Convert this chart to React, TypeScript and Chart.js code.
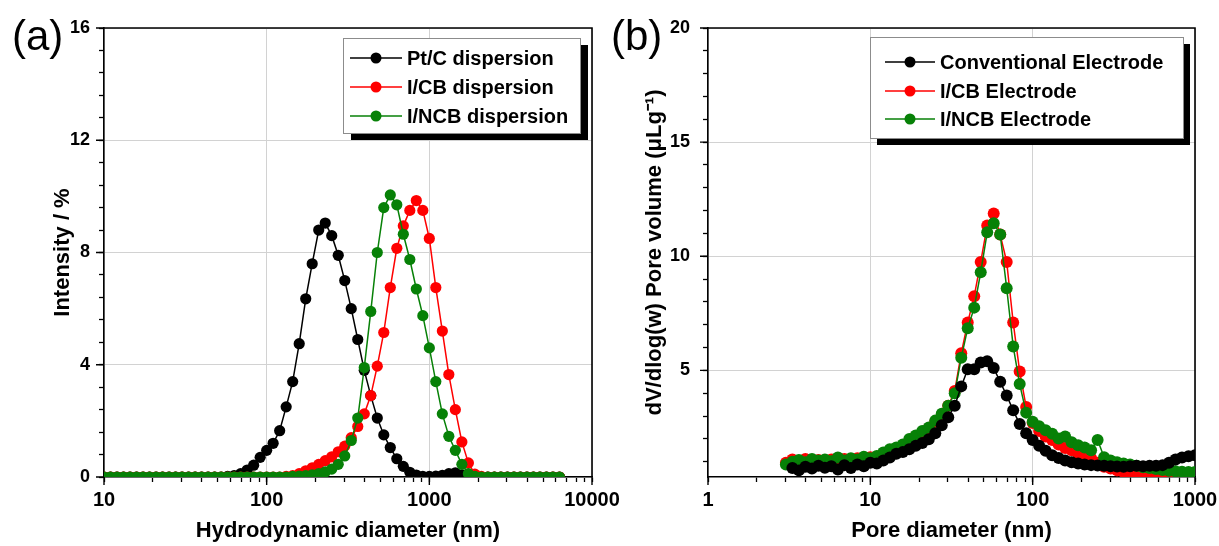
import React, { useEffect, useRef } from "react";
import { Chart, registerables } from "chart.js";

Chart.register(...registerables);

const FONT = "'Liberation Sans', Arial, Helvetica, sans-serif";

// ---------- Panel (a): DLS ----------
const dlsDiameterNm = [
  10.0, 10.96, 12.02, 13.18, 14.45, 15.85, 17.38, 19.05, 20.89, 22.91,
  25.12, 27.54, 30.2, 33.11, 36.31, 39.81, 43.65, 47.86, 52.48, 57.54,
  63.1, 69.18, 75.86, 83.18, 91.2, 100.0, 109.6, 120.2, 131.8, 144.5,
  158.5, 173.8, 190.5, 208.9, 229.1, 251.2, 275.4, 302.0, 331.1, 363.1,
  398.1, 436.5, 478.6, 524.8, 575.4, 631.0, 691.8, 758.6, 831.8, 912.0,
  1000, 1096, 1202, 1318, 1445, 1585, 1738, 1905, 2089, 2291,
  2512, 2754, 3020, 3311, 3631, 3981, 4365, 4786, 5248, 5754, 6310,
];
const ptcDispersion = [
  0, 0, 0, 0, 0, 0, 0, 0, 0, 0,
  0, 0, 0, 0, 0, 0, 0, 0, 0, 0.02,
  0.05, 0.12, 0.25, 0.42, 0.7, 0.95, 1.2, 1.65, 2.5, 3.4,
  4.75, 6.35, 7.6, 8.8, 9.05, 8.6, 7.9, 7.0, 6.0, 4.9,
  3.8, 2.9, 2.1, 1.5, 1.05, 0.65, 0.38, 0.17, 0.07, 0.02,
  0.02, 0.03, 0.06, 0.12, 0.15, 0.08, 0.02, 0, 0, 0,
  0, 0, 0, 0, 0, 0, 0, 0, 0, 0, 0,
];
const icbDispersion = [
  0, 0, 0, 0, 0, 0, 0, 0, 0, 0,
  0, 0, 0, 0, 0, 0, 0, 0, 0, 0,
  0, 0, 0, 0, 0, 0, 0, 0, 0.02, 0.05,
  0.12, 0.22, 0.33, 0.45, 0.58, 0.72, 0.9, 1.1, 1.4, 1.8,
  2.25, 2.9, 3.95, 5.15, 6.75, 8.15, 8.95, 9.5, 9.85, 9.5,
  8.5, 6.75, 5.2, 3.65, 2.4, 1.25, 0.5, 0.1, 0.02, 0,
  0, 0, 0, 0, 0, 0, 0, 0, 0, 0, 0,
];
const incbDispersion = [
  0, 0, 0, 0, 0, 0, 0, 0, 0, 0,
  0, 0, 0, 0, 0, 0, 0, 0, 0, 0,
  0, 0, 0, 0, 0, 0, 0, 0, 0, 0.02,
  0.03, 0.05, 0.08, 0.12, 0.18, 0.28, 0.45, 0.75, 1.3, 2.1,
  3.9, 5.9, 8.0, 9.6, 10.05, 9.7, 8.65, 7.75, 6.7, 5.75,
  4.6, 3.4, 2.25, 1.45, 0.95, 0.45, 0.12, 0.02, 0, 0,
  0, 0, 0, 0, 0, 0, 0, 0, 0, 0, 0,
];
const dlsXMajorTicks = [10, 100, 1000, 10000];
const dlsXMinorTicks = [20, 30, 40, 50, 60, 70, 80, 90, 200, 300, 400, 500, 600, 700, 800, 900, 2000, 3000, 4000, 5000, 6000, 7000, 8000, 9000];
const dlsYMajorTicks = [0, 4, 8, 12, 16];
const dlsYMinorTicks = [0.8, 1.6, 2.4, 3.2, 4.8, 5.6, 6.4, 7.2, 8.8, 9.6, 10.4, 11.2, 12.8, 13.6, 14.4, 15.2];

// ---------- Panel (b): pore size distribution ----------
const poreDiameterNm = [
  3.02, 3.31, 3.63, 3.98, 4.37, 4.79, 5.25, 5.75, 6.31, 6.92,
  7.59, 8.32, 9.12, 10.0, 10.96, 12.02, 13.18, 14.45, 15.85, 17.38,
  19.05, 20.89, 22.91, 25.12, 27.54, 30.2, 33.11, 36.31, 39.81, 43.65,
  47.86, 52.48, 57.54, 63.1, 69.18, 75.86, 83.18, 91.2, 100.0, 109.6,
  120.2, 131.8, 144.5, 158.5, 173.8, 190.5, 208.9, 229.1, 251.2, 275.4,
  302.0, 331.1, 363.1, 398.1, 436.5, 478.6, 524.8, 575.4, 631.0, 691.8,
  758.6, 831.8, 912.0, 1000,
];
const conventionalElectrode = [
  null, 0.72, 0.62, 0.78, 0.70, 0.82, 0.74, 0.80, 0.66, 0.85,
  0.72, 0.88, 0.80, 0.95, 0.92, 1.05, 1.18, 1.35, 1.42, 1.55,
  1.70, 1.82, 1.98, 2.25, 2.60, 2.95, 3.45, 4.30, 5.05, 5.05,
  5.35, 5.40, 5.10, 4.50, 3.90, 3.25, 2.65, 2.25, 1.95, 1.70,
  1.48, 1.28, 1.16, 1.05, 0.98, 0.92, 0.88, 0.85, 0.83, 0.82,
  0.80, 0.79, 0.78, 0.80, 0.82, 0.80, 0.82, 0.82, 0.85, 0.95,
  1.10, 1.18, 1.24, 1.28,
];
const icbElectrode = [
  0.95, 1.10, 1.02, 1.12, 1.05, 1.08, 0.98, 1.10, 1.02, 1.12,
  1.05, 1.15, 1.10, 1.20, 1.22, 1.35, 1.45, 1.55, 1.70, 1.90,
  2.10, 2.25, 2.45, 2.75, 3.05, 3.45, 4.10, 5.75, 7.10, 8.25,
  9.75, 11.35, 11.87, 10.95, 9.75, 7.10, 4.95, 3.40, 2.70, 2.35,
  2.10, 1.95, 1.75, 1.60, 1.50, 1.35, 1.20, 1.15, 0.95, 0.78,
  0.70, 0.62, 0.55, 0.50, 0.45, 0.42, 0.40, 0.40, 0.42, 0.44,
  0.46, 0.45, 0.47, 0.48,
];
const incbElectrode = [
  0.88, 1.00, 1.08, 0.98, 1.12, 1.05, 1.10, 1.02, 1.18, 1.05,
  1.15, 1.10, 1.22, 1.15, 1.25, 1.40, 1.55, 1.62, 1.75, 2.00,
  2.15, 2.35, 2.50, 2.80, 3.10, 3.45, 4.00, 5.55, 6.85, 7.75,
  9.30, 11.05, 11.45, 10.95, 8.60, 6.05, 4.40, 3.15, 2.75, 2.55,
  2.38, 2.22, 2.02, 2.10, 1.85, 1.72, 1.62, 1.50, 1.95, 1.20,
  1.05, 0.98, 0.92, 0.88, 0.82, 0.76, 0.72, 0.68, 0.64, 0.60,
  0.58, 0.56, 0.55, 0.55,
];
const poreXMajorTicks = [1, 10, 100, 1000];
const poreXMinorTicks = [2, 3, 4, 5, 6, 7, 8, 9, 20, 30, 40, 50, 60, 70, 80, 90, 200, 300, 400, 500, 600, 700, 800, 900];
const poreYMajorTicks = [5, 10, 15, 20];
const poreYMinorTicks = [1, 2, 3, 4, 6, 7, 8, 9, 11, 12, 13, 14, 16, 17, 18, 19];

const BLACK = "#000000";
const RED = "#ff0000";
const GREEN = "#078107";

function series(label: string, xs: number[], ys: (number | null)[], color: string, order: number, radius: number) {
  return {
    label,
    data: xs.map((x, i) => ({ x, y: ys[i] })),
    borderColor: color,
    backgroundColor: color,
    pointBackgroundColor: color,
    pointBorderColor: color,
    pointBorderWidth: 0,
    pointRadius: radius,
    pointHoverRadius: radius,
    borderWidth: 1.5,
    tension: 0,
    order,
    spanGaps: false,
  };
}

function axis(o: any) {
  const major: number[] = o.major;
  const minor: number[] = o.minor;
  return {
    type: o.type,
    min: o.min,
    max: o.max,
    afterBuildTicks: (s: any) => {
      s.ticks = [...major, ...minor].sort((p, q) => p - q).map((v) => ({ value: v }));
    },
    afterFit: (s: any) => {
      if (o.horizontal) s.height = o.size;
      else s.width = o.size;
    },
    ticks: {
      autoSkip: false,
      maxRotation: 0,
      minRotation: 0,
      includeBounds: false,
      padding: o.tickPad,
      color: "#000",
      font: { family: FONT, size: o.tickFont, weight: "bold" },
      callback: (v: any) => (major.includes(Number(v)) ? String(v) : ""),
    },
    grid: {
      display: true,
      drawOnChartArea: true,
      drawTicks: true,
      tickLength: 5,
      lineWidth: 1,
      color: (c: any) => (c.tick && major.includes(c.tick.value) ? "#d2d2d2" : "rgba(0,0,0,0)"),
      tickColor: "#000",
      tickWidth: 1.3,
    },
    border: { display: true, color: "#000", width: 1.6 },
    title: {
      display: true,
      text: o.title,
      color: "#000",
      font: { family: FONT, size: 22, weight: "bold" },
      padding: o.horizontal ? { top: 0, bottom: o.titlePad } : { top: o.titlePad, bottom: 0 },
    },
  };
}

// top/right frame and longer major tick marks, positioned by the chart's own scales
function framePlugin(xMajor: number[], yMajor: number[]) {
  return {
    id: "frame",
    beforeDatasetsDraw(chart: any) {
      const { ctx, chartArea: a } = chart;
      const xs = chart.scales.x;
      const ys = chart.scales.y;
      ctx.save();
      ctx.strokeStyle = "#000";
      ctx.lineWidth = 1.6;
      ctx.beginPath();
      ctx.moveTo(a.left, a.top);
      ctx.lineTo(a.right, a.top);
      ctx.lineTo(a.right, a.bottom);
      ctx.stroke();
      ctx.lineWidth = 1.4;
      ctx.beginPath();
      xMajor.forEach((v) => {
        const px = xs.getPixelForValue(v);
        ctx.moveTo(px, a.bottom);
        ctx.lineTo(px, a.bottom + 8);
      });
      yMajor.forEach((v) => {
        if (v < ys.min || v > ys.max) return;
        const py = ys.getPixelForValue(v);
        ctx.moveTo(a.left, py);
        ctx.lineTo(a.left - 8, py);
      });
      ctx.stroke();
      ctx.restore();
    },
  };
}

function legendPlugin(g: any) {
  return {
    id: "boxedLegend",
    afterDraw(chart: any) {
      const ctx = chart.ctx;
      ctx.save();
      ctx.fillStyle = "#000";
      ctx.fillRect(g.x + g.dx, g.y + g.dy, g.w, g.h);
      ctx.fillStyle = "#fff";
      ctx.fillRect(g.x, g.y, g.w, g.h);
      ctx.strokeStyle = "#8c8c8c";
      ctx.lineWidth = 1;
      ctx.strokeRect(g.x + 0.5, g.y + 0.5, g.w, g.h);
      chart.data.datasets.forEach((ds: any, i: number) => {
        const ry = g.rows[i];
        ctx.strokeStyle = ds.borderColor;
        ctx.lineWidth = 1.5;
        ctx.beginPath();
        ctx.moveTo(g.lx1, ry);
        ctx.lineTo(g.lx2, ry);
        ctx.stroke();
        ctx.fillStyle = ds.borderColor;
        ctx.beginPath();
        ctx.arc((g.lx1 + g.lx2) / 2, ry, 5.5, 0, Math.PI * 2);
        ctx.fill();
        ctx.fillStyle = "#000";
        ctx.font = `bold 20px ${FONT}`;
        ctx.textAlign = "left";
        ctx.textBaseline = "middle";
        ctx.fillText(ds.label, g.tx, ry + 1);
      });
      ctx.restore();
    },
  };
}

function panelLabelPlugin(text: string, x: number, y: number) {
  return {
    id: "panelLabel",
    afterDraw(chart: any) {
      const ctx = chart.ctx;
      ctx.save();
      ctx.fillStyle = "#000";
      ctx.font = `42px ${FONT}`;
      ctx.textAlign = "left";
      ctx.textBaseline = "alphabetic";
      ctx.fillText(text, x, y);
      ctx.restore();
    },
  };
}

function baseOptions(scales: any, padRight: number) {
  return {
    responsive: false,
    animation: false,
    devicePixelRatio: 1,
    events: [],
    layout: { padding: { left: 0, top: 28, right: padRight, bottom: 0 } },
    plugins: { legend: { display: false }, tooltip: { enabled: false } },
    scales,
  };
}

function configA(): any {
  return {
    type: "line",
    data: {
      datasets: [
        series("Pt/C dispersion", dlsDiameterNm, ptcDispersion, BLACK, 2, 5.6),
        series("I/CB dispersion", dlsDiameterNm, icbDispersion, RED, 1, 5.6),
        series("I/NCB dispersion", dlsDiameterNm, incbDispersion, GREEN, 0, 5.6),
      ],
    },
    options: baseOptions(
      {
        x: axis({ type: "logarithmic", min: 10, max: 10000, major: dlsXMajorTicks, minor: dlsXMinorTicks, horizontal: true, size: 69, tickPad: 6, tickFont: 20, title: "Hydrodynamic diameter (nm)", titlePad: 2 }),
        y: axis({ type: "linear", min: 0, max: 16, major: dlsYMajorTicks, minor: dlsYMinorTicks, horizontal: false, size: 104, tickPad: 9, tickFont: 18, title: "Intensity / %", titlePad: 50 }),
      },
      58
    ),
    plugins: [
      framePlugin(dlsXMajorTicks, dlsYMajorTicks),
      legendPlugin({ x: 343, y: 38, w: 237, h: 95, dx: 8, dy: 7, lx1: 350, lx2: 402, tx: 407, rows: [58, 87, 116] }),
      panelLabelPlugin("(a)", 12, 50),
    ],
  };
}

function configB(): any {
  return {
    type: "line",
    data: {
      datasets: [
        series("Conventional Electrode", poreDiameterNm, conventionalElectrode, BLACK, 0, 6),
        series("I/CB Electrode", poreDiameterNm, icbElectrode, RED, 2, 6),
        series("I/NCB Electrode", poreDiameterNm, incbElectrode, GREEN, 1, 6),
      ],
    },
    options: baseOptions(
      {
        x: axis({ type: "logarithmic", min: 1, max: 1000, major: poreXMajorTicks, minor: poreXMinorTicks, horizontal: true, size: 69, tickPad: 6, tickFont: 20, title: "Pore diameter (nm)", titlePad: 2 }),
        y: axis({ type: "linear", min: 0.33, max: 20, major: poreYMajorTicks, minor: poreYMinorTicks, horizontal: false, size: 108, tickPad: 13, tickFont: 18, title: "dV/dlog(w) Pore volume (\u03bcLg\u207b\u00b9)", titlePad: 42 }),
      },
      30
    ),
    plugins: [
      framePlugin(poreXMajorTicks, poreYMajorTicks),
      legendPlugin({ x: 270, y: 37, w: 313, h: 101, dx: 7, dy: 7, lx1: 285, lx2: 335, tx: 340, rows: [62, 91, 119] }),
      panelLabelPlugin("(b)", 11, 50),
    ],
  };
}

export default function App() {
  const aRef = useRef<HTMLCanvasElement>(null);
  const bRef = useRef<HTMLCanvasElement>(null);

  useEffect(() => {
    const a = new Chart(aRef.current as HTMLCanvasElement, configA());
    const b = new Chart(bRef.current as HTMLCanvasElement, configB());
    return () => {
      a.destroy();
      b.destroy();
    };
  }, []);

  return (
    <div style={{ position: "absolute", left: 0, top: 0, width: 1219, height: 546, background: "#fff", overflow: "hidden" }}>
      <canvas ref={aRef} width={650} height={546} style={{ position: "absolute", left: 0, top: 0, width: 650, height: 546 }} />
      <canvas ref={bRef} width={625} height={546} style={{ position: "absolute", left: 600, top: 0, width: 625, height: 546 }} />
    </div>
  );
}
